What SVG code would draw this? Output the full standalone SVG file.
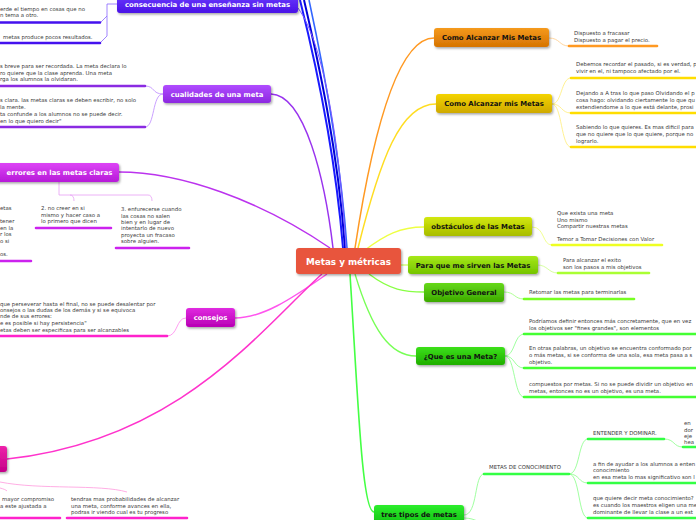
<svg xmlns="http://www.w3.org/2000/svg" width="696" height="520" viewBox="0 0 696 520">
<style>
.t{font-family:"DejaVu Sans",Verdana,sans-serif;font-size:5.4px;fill:#3a3a3a}
.nl{font-family:"DejaVu Sans",Verdana,sans-serif;font-size:6.9px;font-weight:bold;text-anchor:middle}
.w{fill:#ffffff}
.k{fill:#111111}
.c{fill:none}
.ul{fill:none;stroke-width:2.6;stroke-linecap:round}
.box{filter:url(#sh)}
</style>
<defs>
<filter id="sh" x="-20%" y="-30%" width="140%" height="170%"><feDropShadow dx="1.2" dy="1.5" stdDeviation="0.9" flood-color="#000" flood-opacity="0.35"/></filter>
<linearGradient id="gBlue" x1="0" y1="0" x2="0" y2="1"><stop offset="0" stop-color="#6a3bff"/><stop offset="1" stop-color="#4a12e6"/></linearGradient>
<linearGradient id="gPur" x1="0" y1="0" x2="0" y2="1"><stop offset="0" stop-color="#b04cff"/><stop offset="1" stop-color="#8c28e0"/></linearGradient>
<linearGradient id="gErr" x1="0" y1="0" x2="0" y2="1"><stop offset="0" stop-color="#dd44f6"/><stop offset="1" stop-color="#b61ad8"/></linearGradient>
<linearGradient id="gCon" x1="0" y1="0" x2="0" y2="1"><stop offset="0" stop-color="#e02ae0"/><stop offset="1" stop-color="#b800b4"/></linearGradient>
<linearGradient id="gPink" x1="0" y1="0" x2="0" y2="1"><stop offset="0" stop-color="#ee22aa"/><stop offset="1" stop-color="#c40088"/></linearGradient>
<linearGradient id="gOr" x1="0" y1="0" x2="0" y2="1"><stop offset="0" stop-color="#f59a1c"/><stop offset="1" stop-color="#d67300"/></linearGradient>
<linearGradient id="gYe" x1="0" y1="0" x2="0" y2="1"><stop offset="0" stop-color="#f4d400"/><stop offset="1" stop-color="#cfa900"/></linearGradient>
<linearGradient id="gLi" x1="0" y1="0" x2="0" y2="1"><stop offset="0" stop-color="#d2e80a"/><stop offset="1" stop-color="#a8bc00"/></linearGradient>
<linearGradient id="gLg" x1="0" y1="0" x2="0" y2="1"><stop offset="0" stop-color="#a6e818"/><stop offset="1" stop-color="#74c400"/></linearGradient>
<linearGradient id="gGr" x1="0" y1="0" x2="0" y2="1"><stop offset="0" stop-color="#66d81a"/><stop offset="1" stop-color="#3caa00"/></linearGradient>
<linearGradient id="gGr2" x1="0" y1="0" x2="0" y2="1"><stop offset="0" stop-color="#3ce01a"/><stop offset="1" stop-color="#1fae00"/></linearGradient>
<linearGradient id="gGr3" x1="0" y1="0" x2="0" y2="1"><stop offset="0" stop-color="#2cee2c"/><stop offset="1" stop-color="#12c012"/></linearGradient>
</defs>
<rect width="696" height="520" fill="#ffffff"/>

<g id="connectors">
<path class="c" d="M343,248 C335,150 315,60 300,0" stroke="#1a1aff" stroke-width="2"/>
<path class="c" d="M345,248 C338,150 318,60 304,0" stroke="#0000d8" stroke-width="2"/>
<path class="c" d="M347,248 C340,150 322,60 309,0" stroke="#3366ff" stroke-width="1.6"/>
<path class="c" d="M346,248 C340,150 325,45 298,8" stroke="#7a55ff" stroke-width="1"/>
<path class="c" d="M333,248 C325,180 305,95 271,94" stroke="#9933ee" stroke-width="1.5"/>
<path class="c" d="M330,248 C260,200 180,172 119,172" stroke="#bb33ee" stroke-width="1.5"/>
<path class="c" d="M327,274 C290,300 262,318 235,318" stroke="#ff55ee" stroke-width="1.5"/>
<path class="c" d="M322,274 C260,330 180,440 7,459" stroke="#ff33cc" stroke-width="1.5"/>
<path class="c" d="M355,248 C370,150 395,38 434,38" stroke="#ff9922" stroke-width="1.5"/>
<path class="c" d="M358,248 C380,160 400,104 436,104" stroke="#ffdd22" stroke-width="1.5"/>
<path class="c" d="M365,250 C385,235 400,227 424,227" stroke="#eeff44" stroke-width="1.3"/>
<path class="c" d="M401,265 L408,265" stroke="#ccff66" stroke-width="1.3"/>
<path class="c" d="M369,274 C390,290 405,292 424,292" stroke="#88ff44" stroke-width="1.3"/>
<path class="c" d="M355,274 C372,330 390,356 416,356" stroke="#77ff55" stroke-width="1.3"/>
<path class="c" d="M350,274 C358,400 362,512 374,512" stroke="#44ff44" stroke-width="1.6"/>

<path class="c" d="M117,4 L107,4 L107,36 L100,43 M107,16 L101,22" stroke="#8866ff" stroke-width="0.8"/>
<path class="c" d="M163,94 C152,94 155,86 145,86 M163,94 C152,94 155,127 145,127" stroke="#bb88ff" stroke-width="0.8"/>
<path class="c" d="M59,182 L59,195 L148,195 Q152,195 152,201 M70,195 Q74,195 74,201" stroke="#e7a0f5" stroke-width="0.8"/>
<path class="c" d="M167,336 C178,336 176,318 186,318" stroke="#ff88ee" stroke-width="0.8"/>
<path class="c" d="M0,482 C40,490 100,484 127,492 M0,488 C4,489 6,490 7,491" stroke="#ff99dd" stroke-width="0.8"/>
<path class="c" d="M549,38 C560,38 559,46 569,46" stroke="#ffcc88" stroke-width="0.8"/>
<path class="c" d="M552,104 C562,104 561,78 571,78 M552,104 C562,104 561,113 571,113 M552,104 C562,104 561,147 571,147" stroke="#ffee77" stroke-width="0.8"/>
<path class="c" d="M532,227 C545,227 542,245 552,245" stroke="#eeff77" stroke-width="0.8"/>
<path class="c" d="M537,265 C548,265 548,273 558,273" stroke="#ccff88" stroke-width="0.8"/>
<path class="c" d="M504,292 C515,292 514,299 524,299" stroke="#99ff77" stroke-width="0.8"/>
<path class="c" d="M505,356 C515,356 514,334 524,334 M505,356 C515,356 514,368 524,368 M505,356 C515,356 514,397 524,397" stroke="#88ff88" stroke-width="0.8"/>
<path class="c" d="M464,515 C478,515 474,474 484,474 M464,518 C476,518 482,524 490,530" stroke="#88ff88" stroke-width="0.8"/>
<path class="c" d="M569,474 C580,474 578,439 588,439 M569,474 C580,474 578,483 588,483 M569,474 C580,474 578,518 588,518 M664,439 C675,439 673,447 683,447" stroke="#88ff88" stroke-width="0.8"/>

<g class="ul">
<path d="M0,22.5 L100,22.5 M0,43 L100,43" stroke="#4411ee"/>
<path d="M0,86 L145,86 M0,127 L145,127" stroke="#8a2be2"/>
<path d="M0,261 L31,261 M36,228 L111,228 M116,248 L189,248" stroke="#cc22ee"/>
<path d="M0,336 L167,336" stroke="#ff22cc"/>
<path d="M0,518 L60,518 M67,518 L187,518" stroke="#ff22cc"/>
<path d="M569,46 L657,46" stroke="#ff9922"/>
<path d="M571,78 L698,78 M571,113 L698,113 M571,147 L698,147" stroke="#ffdd00"/>
<path d="M552,245 L662,245" stroke="#eeff22"/>
<path d="M558,273 L649,273" stroke="#aaff33"/>
<path d="M524,299 L634,299" stroke="#77ff22"/>
<path d="M524,334 L698,334 M524,368 L698,368 M524,397 L698,397" stroke="#44ff33"/>
<path d="M484,474 L569,474 M588,439 L664,439 M683,447 L698,447 M588,483 L698,483 M588,518 L698,518" stroke="#33ff44"/>
</g>
</g>

<g id="center"><rect class="box" x="296" y="248" width="105" height="26" rx="3" fill="#e8543e"/><text class="nl w" x="348.5" y="264.5" style="font-size:8.8px">Metas y métricas</text></g>
<g id="n-consecuencia"><rect class="box" x="117" y="-6" width="181" height="19" rx="3" fill="url(#gBlue)"/><text class="nl w" x="207.5" y="7">consecuencia de una enseñanza sin metas</text></g>
<g id="n-cualidades"><rect class="box" x="163" y="85" width="108" height="18" rx="3" fill="url(#gPur)"/><text class="nl w" x="217" y="96.5">cualidades de una meta</text></g>
<g id="n-errores"><rect class="box" x="-10" y="163" width="129" height="19" rx="3" fill="url(#gErr)"/><text class="nl w" x="59.5" y="175">errores en las metas claras</text></g>
<g id="n-consejos"><rect class="box" x="186" y="308" width="49" height="19" rx="3" fill="url(#gCon)"/><text class="nl w" x="210.5" y="320">consejos</text></g>
<g id="n-pink"><rect class="box" x="-20" y="446" width="27" height="26" rx="3" fill="url(#gPink)"/></g>
<g id="n-como1"><rect class="box" x="434" y="28" width="115" height="19" rx="3" fill="url(#gOr)"/><text class="nl k" x="491.5" y="40">Como Alcanzar Mis Metas</text></g>
<g id="n-como2"><rect class="box" x="436" y="94" width="116" height="19" rx="3" fill="url(#gYe)"/><text class="nl k" x="494" y="106">Como Alcanzar mis Metas</text></g>
<g id="n-obstaculos"><rect class="box" x="424" y="217" width="108" height="19" rx="3" fill="url(#gLi)"/><text class="nl k" x="478" y="229">obstáculos de las Metas</text></g>
<g id="n-paraque"><rect class="box" x="408" y="256" width="130" height="18" rx="3" fill="url(#gLg)"/><text class="nl k" x="473" y="267.5">Para que me sirven las Metas</text></g>
<g id="n-objetivo"><rect class="box" x="424" y="283" width="80" height="19" rx="3" fill="url(#gGr)"/><text class="nl k" x="464" y="295">Objetivo General</text></g>
<g id="n-quees"><rect class="box" x="416" y="347" width="89" height="18" rx="3" fill="url(#gGr2)"/><text class="nl k" x="460.5" y="358.5">¿Que es una Meta?</text></g>
<g id="n-tres"><rect class="box" x="374" y="505" width="90" height="20" rx="3" fill="url(#gGr3)"/><text class="nl k" x="419" y="517">tres tipos de metas</text></g>

<g id="texts">
<text class="t"><tspan x="0" y="11">erde el tiempo en cosas que no</tspan><tspan x="0" y="17">n tema a otro.</tspan></text>
<text class="t" x="3" y="39">metas produce pocos resultados.</text>
<text class="t"><tspan x="0" y="68">s breve para ser recordada. La meta declara lo</tspan><tspan x="0" y="74.5">ro quiere que la clase aprenda. Una meta</tspan><tspan x="0" y="81">rga los alumnos la olvidaran.</tspan></text>
<text class="t"><tspan x="0" y="102">s clara. las metas claras se deben escribir, no solo</tspan><tspan x="0" y="109">la mente.</tspan><tspan x="0" y="116">ta confunde a los alumnos no se puede decir.</tspan><tspan x="0" y="123">en lo que quiero decir"</tspan></text>
<text class="t"><tspan x="0" y="210">etas</tspan><tspan x="0" y="223">tener</tspan><tspan x="0" y="230">en la</tspan><tspan x="0" y="236">r los</tspan><tspan x="0" y="243">o si</tspan><tspan x="0" y="256">os.</tspan></text>
<text class="t"><tspan x="41" y="210">2. no creer en si</tspan><tspan x="41" y="217">mismo y hacer caso a</tspan><tspan x="41" y="223">lo primero que dicen</tspan></text>
<text class="t"><tspan x="121" y="211">3. enfurecerse cuando</tspan><tspan x="121" y="218">las cosas no salen</tspan><tspan x="121" y="224">bien y en lugar de</tspan><tspan x="121" y="230">intentarlo de nuevo</tspan><tspan x="121" y="237">proyecta un fracaso</tspan><tspan x="121" y="243">sobre alguien.</tspan></text>
<text class="t"><tspan x="0" y="306">que perseverar hasta el final, no se puede desalentar por</tspan><tspan x="0" y="312">onsejos o las dudas de los demás y si se equivoca</tspan><tspan x="0" y="318">nde de sus errores:</tspan><tspan x="0" y="325">e es posible si hay persistencia"</tspan><tspan x="0" y="332">etas deben ser especificas para ser alcanzables</tspan></text>
<text class="t"><tspan x="2" y="501">mayor compromiso</tspan><tspan x="0" y="508">a este ajustada a</tspan></text>
<text class="t"><tspan x="71" y="501">tendras mas probabilidades de alcanzar</tspan><tspan x="71" y="508">una meta, conforme avances en ella,</tspan><tspan x="71" y="514">podras ir viendo cual es tu progreso</tspan></text>

<text class="t"><tspan x="574" y="35">Dispuesto a fracasar</tspan><tspan x="574" y="42">Dispuesto a pagar el precio.</tspan></text>
<text class="t"><tspan x="576" y="66">Debemos recordar el pasado, si es verdad, p</tspan><tspan x="576" y="73">vivir en el, ni tampoco afectado por el.</tspan></text>
<text class="t"><tspan x="576" y="95">Dejando a A tras lo que paso Olvidando el p</tspan><tspan x="576" y="102">cosa hago: olvidando ciertamente lo que qu</tspan><tspan x="576" y="109">extendiendome a lo que está delante, prosi</tspan></text>
<text class="t"><tspan x="576" y="129">Sabiendo lo que quieres. Es mas dificil para</tspan><tspan x="576" y="136">que no quiere que lo que quiere, porque no</tspan><tspan x="576" y="143">lograrlo.</tspan></text>
<text class="t"><tspan x="557" y="215">Que exista una meta</tspan><tspan x="557" y="221.5">Uno mismo</tspan><tspan x="557" y="228">Compartir nuestras metas</tspan><tspan x="557" y="241">Temor a Tomar Decisiones con Valor</tspan></text>
<text class="t"><tspan x="563" y="262">Para alcanzar el exito</tspan><tspan x="563" y="269">son los pasos a mis objetivos</tspan></text>
<text class="t" x="529" y="294">Retomar las metas para terminarlas</text>
<text class="t"><tspan x="529" y="323">Podríamos definir entonces más concretamente, que en vez</tspan><tspan x="529" y="330">los objetivos ser "fines grandes", son elementos</tspan></text>
<text class="t"><tspan x="529" y="350">En otras palabras, un objetivo se encuentra conformado por</tspan><tspan x="529" y="357">o más metas, si se conforma de una sola, esa meta pasa a s</tspan><tspan x="529" y="364">objetivo.</tspan></text>
<text class="t"><tspan x="529" y="386">compuestos por metas. Si no se puede dividir un objetivo en</tspan><tspan x="529" y="392.5">metas, entonces no es un objetivo, es una meta.</tspan></text>
<text class="t" x="489" y="469">METAS DE CONOCIMIENTO</text>
<text class="t" x="593" y="435">ENTENDER Y DOMINAR.</text>
<text class="t"><tspan x="684" y="425">en</tspan><tspan x="684" y="432">dor</tspan><tspan x="684" y="438">eje</tspan><tspan x="684" y="444">hea</tspan></text>
<text class="t"><tspan x="593" y="466">a fin de ayudar a los alumnos a enten</tspan><tspan x="593" y="472">conocimiento</tspan><tspan x="593" y="479">en esa meta lo mas significativo son l</tspan></text>
<text class="t"><tspan x="593" y="500">que quiere decir meta conocimiento?</tspan><tspan x="593" y="507">es cuando los maestros eligen una me</tspan><tspan x="593" y="514">dominante de llevar la clase a un est</tspan></text>
</g>
</svg>
